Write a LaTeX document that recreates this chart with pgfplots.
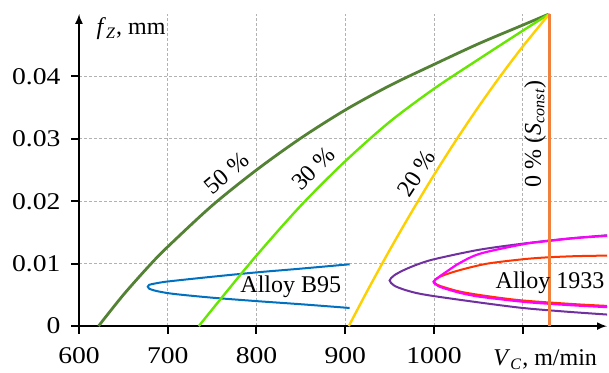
\documentclass[border=0pt]{standalone}
\usepackage{pgfplots}
\pgfplotsset{compat=1.18}
\usepackage{fontspec}
\setmainfont{Liberation Serif}
\usetikzlibrary{arrows.meta}
\definecolor{colA}{RGB}{84,130,53}
\definecolor{colB}{RGB}{102,230,0}
\definecolor{colC}{RGB}{255,208,0}
\definecolor{colD}{RGB}{240,128,60}
\definecolor{colBlue}{RGB}{0,112,192}
\definecolor{colPurple}{RGB}{112,48,160}
\definecolor{colRed}{RGB}{255,51,0}
\definecolor{colMag}{RGB}{255,0,255}
\begin{document}
\begin{tikzpicture}[font=\fontsize{12}{14}\selectfont]
\begin{axis}[
 scale only axis, width=264pt, height=156.1pt,
 xmin=600, xmax=1195, ymin=0, ymax=0.05,
 axis lines=left,
 axis line style={line width=1pt, -{Latex[length=5pt,width=4pt]}},
 xtick={600,700,...,1100}, xticklabels={600,700,800,900,1000,},
 ytick={0,0.01,0.02,0.03,0.04}, yticklabels={0,0.01,0.02,0.03,0.04},
 scaled y ticks=false,
 tick align=outside, major tick length=3.75pt,
 tick style={black, line width=1pt},
 xticklabel style={yshift=-3.5pt, xscale=1.15},
 yticklabel style={xshift=-1.5pt, xscale=1.15},
 grid=major, major grid style={black!30, line width=0.4pt, dash pattern=on 1.5pt off 1pt},
 clip mode=individual,
 /pgf/number format/assume math mode=true,
 every axis plot/.append style={smooth, tension=0.5},
]
% Alloy B95
\addplot[colBlue, line width=1pt] coordinates {(905,0.0099) (850,0.0092) (800,0.0086) (750,0.0079) (710,0.0073) (695,0.00705) (685,0.0068) (679,0.0066) (677.5,0.0063) (679,0.0060) (685,0.0057) (695,0.0054) (710,0.0051) (750,0.00455) (800,0.0040) (850,0.0035) (905,0.0029)};
% Alloy 1933
\addplot[colPurple, line width=1pt] coordinates {(1200,0.0146) (1150,0.0140) (1100,0.0132) (1050,0.0122) (1000,0.0107) (980,0.0098) (965,0.0089) (955,0.0081) (950,0.0073) (955,0.0065) (965,0.0059) (980,0.0053) (1000,0.0048) (1050,0.0038) (1100,0.0029) (1150,0.0023) (1200,0.0018)};
\addplot[colRed, line width=1pt] coordinates {(1200,0.0113) (1160,0.0112) (1127,0.0110) (1100,0.0107) (1060,0.0100) (1030,0.0090) (1012,0.0082) (1004,0.0077) (1000,0.0071) (1004,0.0066) (1012,0.0062) (1030,0.0055) (1060,0.0048) (1100,0.0041) (1160,0.0035) (1200,0.0032)};
\addplot[colMag, line width=1.1pt] coordinates {(1200,0.0145) (1160,0.0141) (1127,0.0136) (1100,0.0131) (1052,0.0116) (1029,0.0101) (1015,0.0088) (1005,0.0078) (999.5,0.0071) (1005,0.0064) (1015,0.0059) (1030,0.0053) (1052,0.0047) (1100,0.0039) (1127,0.0036) (1160,0.0033) (1200,0.0030)};
% percent curves
\addplot[colA, line width=1.4pt] coordinates {(622,0) (650,0.0050) (680,0.0098) (700,0.0127) (750,0.0193) (800,0.0250) (850,0.0301) (900,0.0346) (950,0.0385) (1000,0.0419) (1050,0.0452) (1100,0.0482) (1130,0.0500)};
\addplot[colB, line width=1.2pt] coordinates {(735,0) (760,0.0044) (800,0.0113) (850,0.0193) (900,0.0264) (950,0.0327) (1000,0.0380) (1050,0.0427) (1100,0.0473) (1130,0.0500)};
\addplot[colC, line width=1.2pt] coordinates {(904,0) (925,0.00567) (950,0.01215) (975,0.01832) (1000,0.0242) (1025,0.02979) (1050,0.03508) (1075,0.04007) (1100,0.04476) (1130,0.0500)};
\addplot[colD, line width=1.4pt, sharp plot] coordinates {(1130,0) (1130,0.05)};
% labels
\node[rotate=40] at (axis cs:766,0.0245) {50~\%};
\node[rotate=45] at (axis cs:864,0.0252) {30~\%};
\node[rotate=57] at (axis cs:980.5,0.0245) {20~\%};
\node[rotate=90] at (axis cs:1113.9,0.0308) {0~\% (\textit{S}\textsubscript{\textit{const}})};
\node at (axis cs:838.7,0.00625) {Alloy B95};
\node at (axis cs:1130.8,0.0070) {Alloy 1933};
\node[anchor=base west] at (axis cs:612,0.0467) {\textit{f}\textsubscript{\textit{Z}}, mm};
\node[anchor=base east] at (axis cs:1191.6,-0.00633) {\textit{V}\textsubscript{\textit{C}}, m/min};
\coordinate (bbl) at (axis cs:511,-0.00737);
\coordinate (btr) at (axis cs:1197.2,0.05222);
\end{axis}
\pgfresetboundingbox
\path[use as bounding box] (bbl) rectangle (btr);
\end{tikzpicture}
\end{document}
